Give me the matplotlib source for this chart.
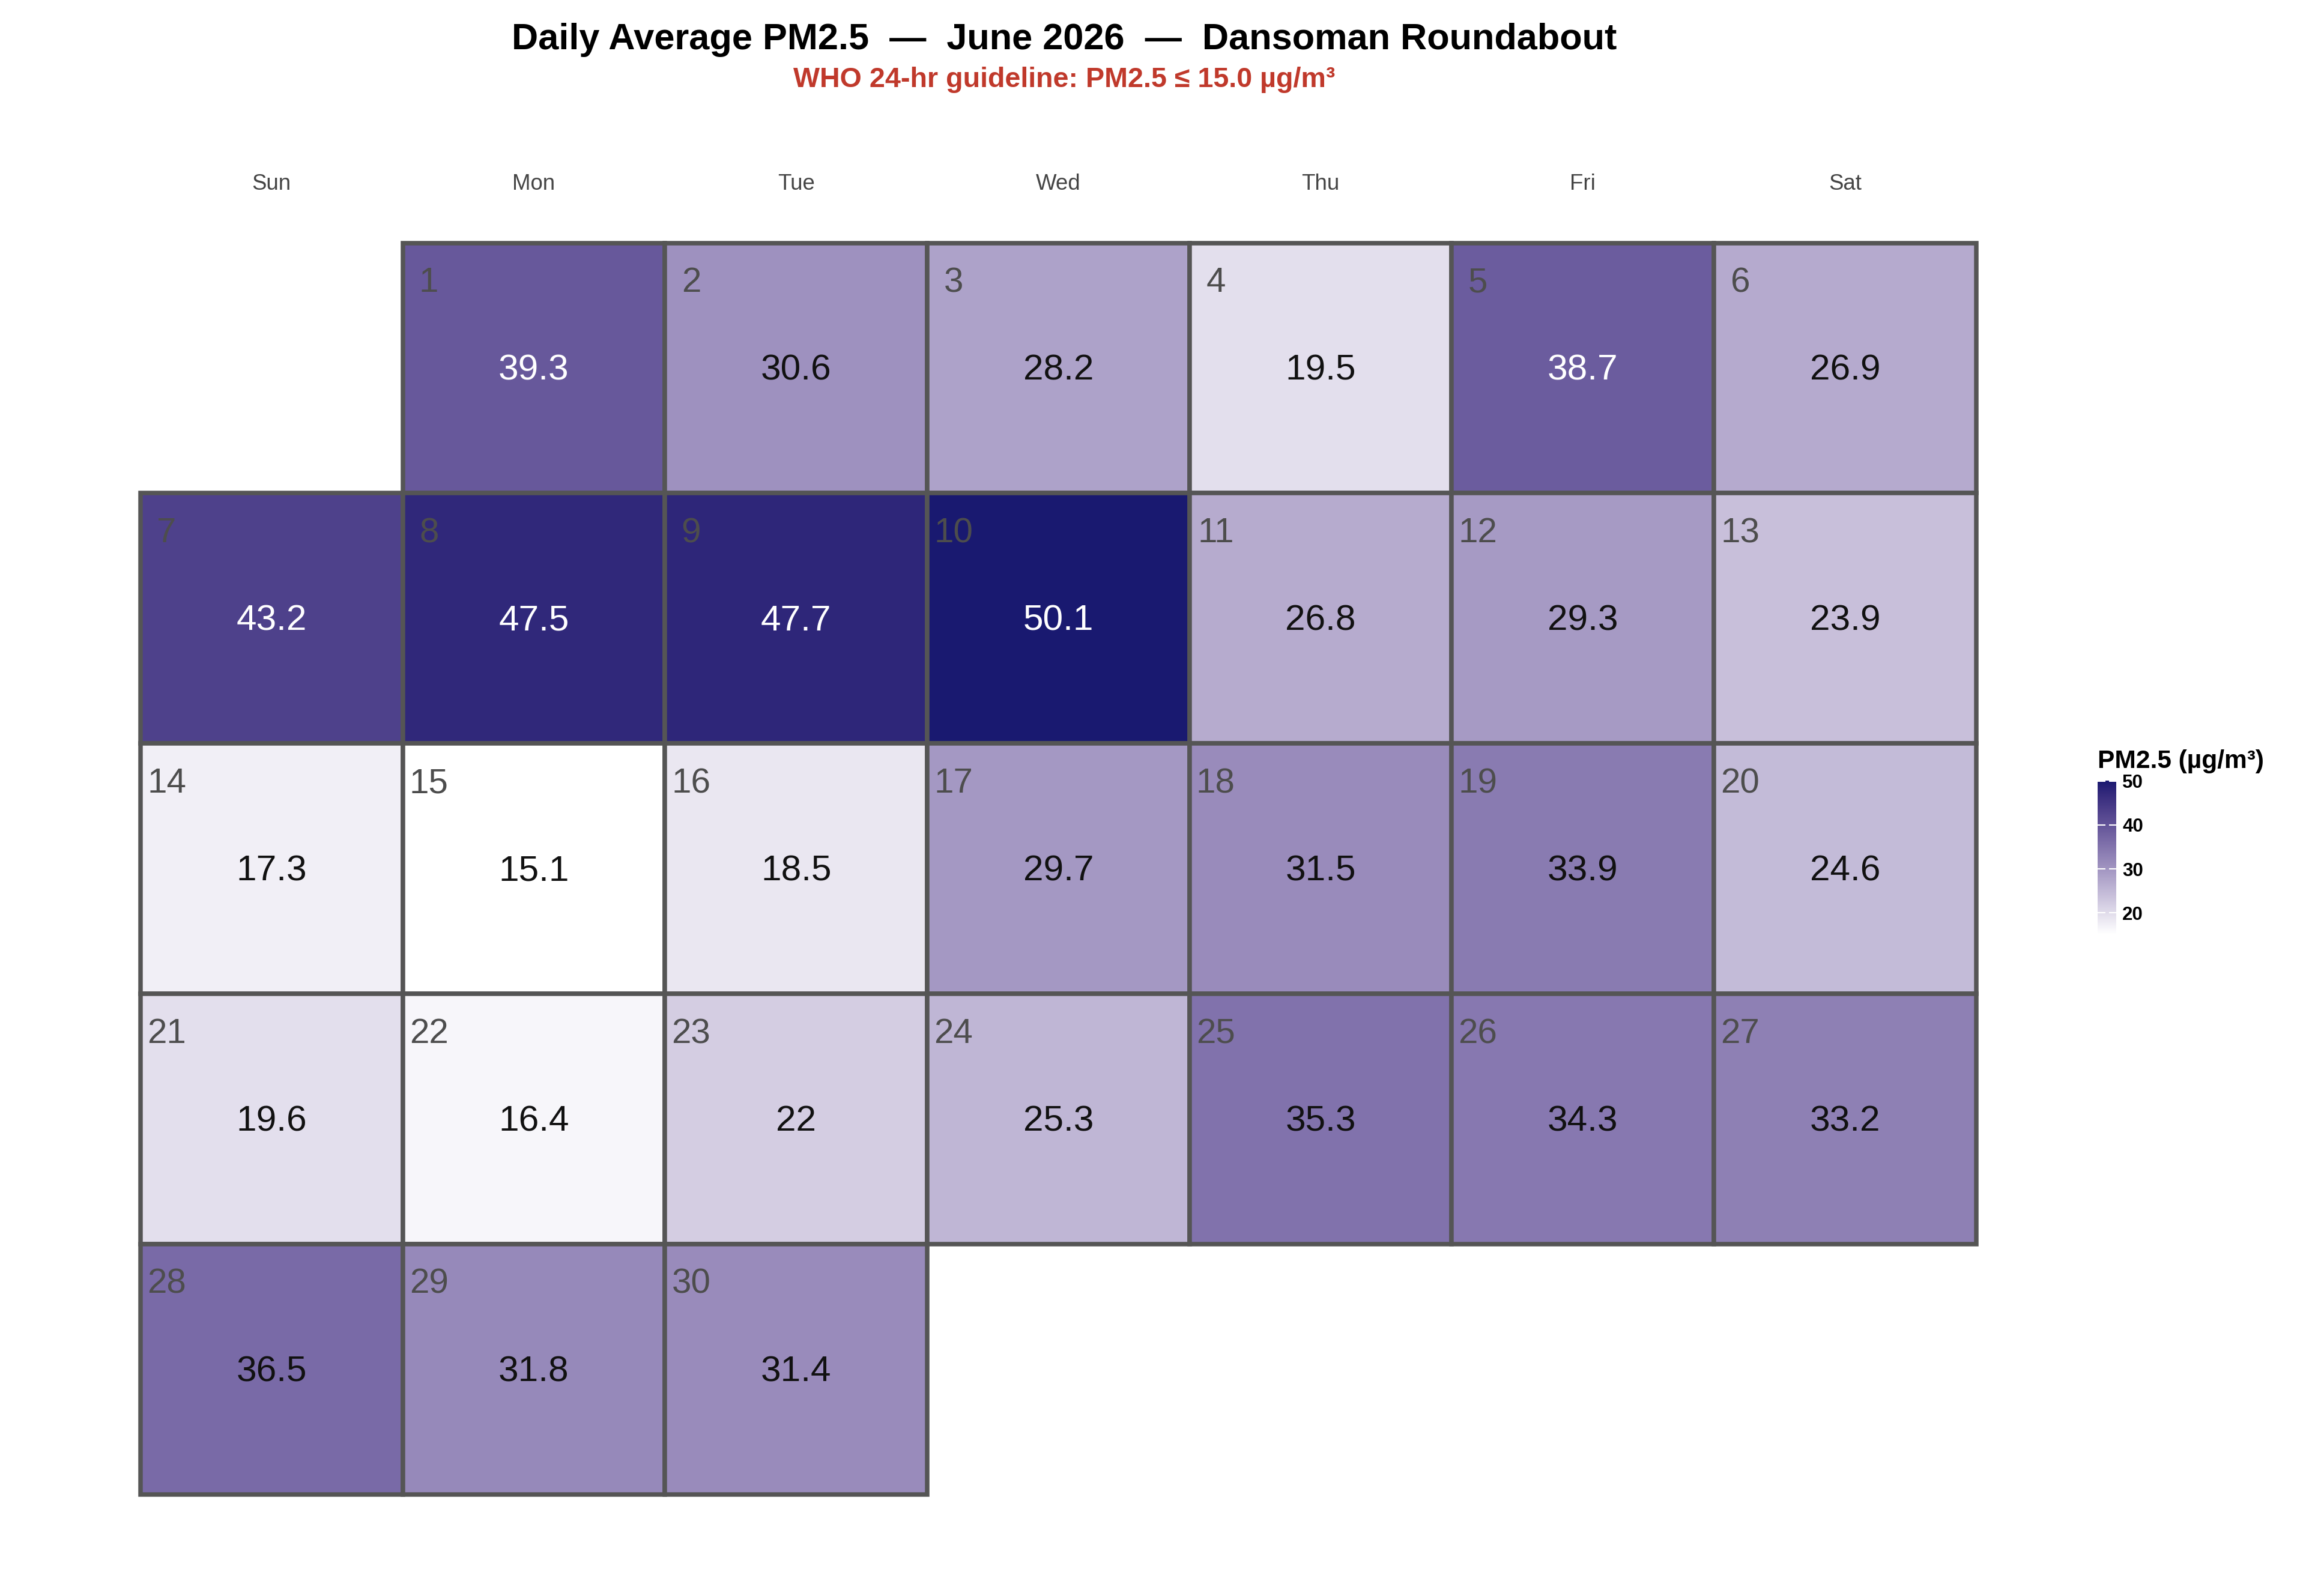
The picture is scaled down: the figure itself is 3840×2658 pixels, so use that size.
import datetime
import numpy as np
import matplotlib
matplotlib.use("Agg")
import matplotlib.pyplot as plt
from matplotlib.colors import ListedColormap, Normalize, to_rgb
from matplotlib.patches import Rectangle
from matplotlib.cm import ScalarMappable

plt.rcParams['font.family'] = ['Liberation Sans', 'DejaVu Sans']

# daily averages, June 2026
days = list(range(1, 31))
pm25 = [39.3, 30.6, 28.2, 19.5, 38.7, 26.9, 43.2, 47.5, 47.7, 50.1,
        26.8, 29.3, 23.9, 17.3, 15.1, 18.5, 29.7, 31.5, 33.9, 24.6,
        19.6, 16.4, 22.0, 25.3, 35.3, 34.3, 33.2, 36.5, 31.8, 31.4]
weekday_labels = ["Sun", "Mon", "Tue", "Wed", "Thu", "Fri", "Sat"]
cbar_ticks = [20, 30, 40, 50]


# white -> midnightblue, interpolated in Lab like ggplot's gradient
def srgb_to_lab(rgb):
    rgb = np.asarray(rgb, float)
    lin = np.where(rgb <= 0.04045, rgb / 12.92, ((rgb + 0.055) / 1.055) ** 2.4)
    M = np.array([[0.4124, 0.3576, 0.1805],
                  [0.2126, 0.7152, 0.0722],
                  [0.0193, 0.1192, 0.9505]])
    xyz = M @ lin / np.array([0.95047, 1.0, 1.08883])
    f = np.where(xyz > 0.008856, np.cbrt(xyz), 7.787 * xyz + 16 / 116)
    return np.array([116 * f[1] - 16, 500 * (f[0] - f[1]), 200 * (f[1] - f[2])])


def lab_to_srgb(lab):
    L, a, b = lab
    fy = (L + 16) / 116
    fx = fy + a / 500
    fz = fy - b / 200
    f = np.array([fx, fy, fz])
    xyz = np.where(f ** 3 > 0.008856, f ** 3, (f - 16 / 116) / 7.787)
    xyz = xyz * np.array([0.95047, 1.0, 1.08883])
    Minv = np.array([[3.2406, -1.5372, -0.4986],
                     [-0.9689, 1.8758, 0.0415],
                     [0.0557, -0.2040, 1.0570]])
    lin = Minv @ xyz
    rgb = np.where(lin <= 0.0031308, 12.92 * lin, 1.055 * np.power(np.clip(lin, 0, None), 1 / 2.4) - 0.055)
    return np.clip(rgb, 0, 1)


lab_lo = srgb_to_lab(to_rgb("white"))
lab_hi = srgb_to_lab(to_rgb("#191970"))
cmap = ListedColormap([lab_to_srgb(lab_lo + t * (lab_hi - lab_lo)) for t in np.linspace(0, 1, 256)])
norm = Normalize(vmin=min(pm25), vmax=max(pm25))

fig = plt.figure(figsize=(12.8, 8.86), dpi=300)
ax = fig.add_axes([0.0609, 0.0635, 0.7961, 0.7843])
ax.set_xlim(-0.5, 6.5)
ax.set_ylim(4.5, -0.5)
ax.axis("off")

first = datetime.date(2026, 6, 1)
offset = (first.weekday() + 1) % 7
for d, v in zip(days, pm25):
    col = (offset + d - 1) % 7
    row = (offset + d - 1) // 7
    ax.add_patch(Rectangle((col - 0.5, row - 0.5), 1, 1, facecolor=cmap(norm(v)),
                           edgecolor="#555555", linewidth=1.8, clip_on=False))
    ax.text(col - 0.4, row - 0.34, str(d), ha="center", va="center",
            fontsize=14, color="#4d4d4d")
    ax.text(col, row + 0.01, f"{v:g}", ha="center", va="center", fontsize=14.5,
            color="white" if v > 38 else "#111111")

for i, lab in enumerate(weekday_labels):
    ax.text(i, -0.735, lab, ha="center", va="center", fontsize=8.8,
            color="#444444", clip_on=False)

fig.text(0.4615, 0.975, "Daily Average PM2.5  \u2014  June 2026  \u2014  Dansoman Roundabout",
         ha="center", va="center", fontsize=14.7, fontweight="bold")
fig.text(0.4615, 0.950, "WHO 24-hr guideline: PM2.5 \u2264 15.0 \u00b5g/m\u00b3",
         ha="center", va="center", fontsize=11.2, fontweight="bold", color="#c0392b")

cax = fig.add_axes([0.9096, 0.4146, 0.008, 0.0963])
cb = fig.colorbar(ScalarMappable(norm=norm, cmap=cmap), cax=cax, ticks=cbar_ticks)
cb.outline.set_visible(False)
cax.tick_params(direction="in", left=True, right=True, color="white",
                length=3, width=0.5, labelsize=7.5, pad=2.5)
for t in cax.get_yticklabels():
    t.set_fontweight("bold")
fig.text(0.9096, 0.523, "PM2.5 (\u00b5g/m\u00b3)", ha="left", va="center",
         fontsize=10.2, fontweight="bold")

fig.savefig("out.png", dpi=300, facecolor="white")
